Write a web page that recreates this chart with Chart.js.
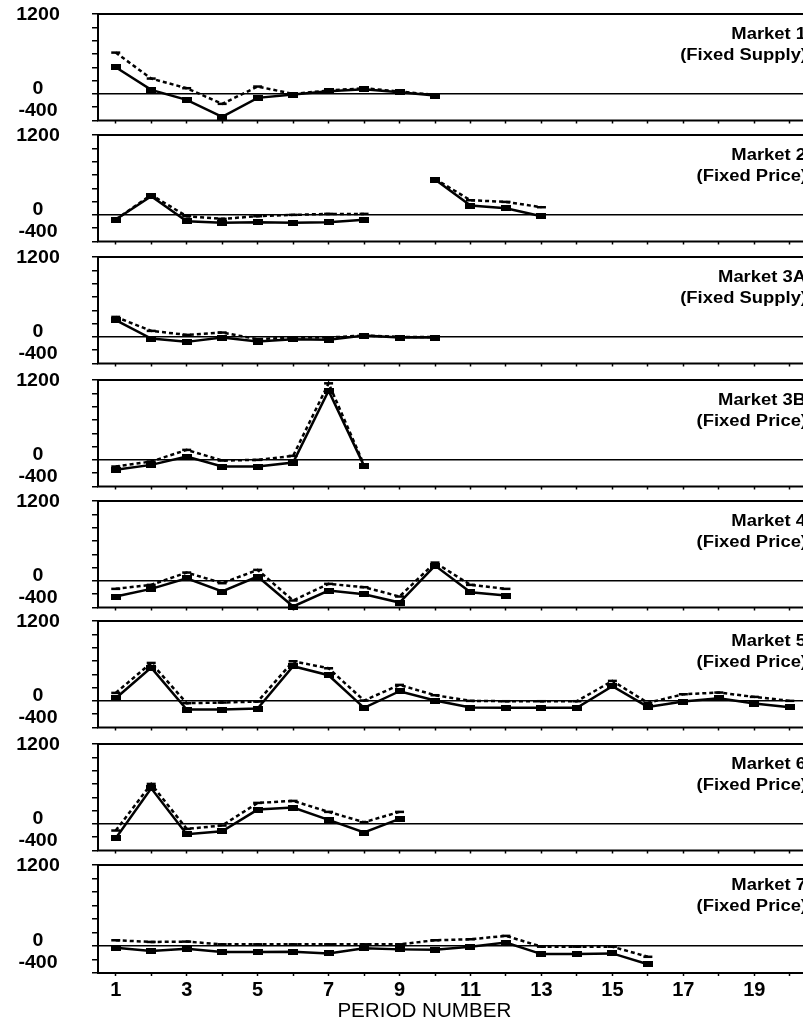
<!DOCTYPE html>
<html>
<head>
<meta charset="utf-8">
<script src="https://cdn.jsdelivr.net/npm/chart.js@4/dist/chart.umd.min.js"></script>
<style>
  html, body { margin: 0; padding: 0; background: #fff; overflow: hidden; }
  #wrap { position: relative; width: 803px; height: 1023px; overflow: hidden; }
  #wrap canvas { position: absolute; left: 0; }
</style>
</head>
<body>
<div id="wrap"></div>
<script>
const periods = [1, 2, 3, 4, 5, 6, 7, 8, 9, 10, 11, 12, 13, 14, 15, 16, 17, 18, 19, 20];
const xTickLabels = [1, 3, 5, 7, 9, 11, 13, 15, 17, 19];
const yTickLabels = [1200, 0, -400];

const market1Solid  = [400, 60, -90, -345, -60, -10, 40, 70, 25, -25];
const market1Dashed = [620, 230, 85, -150, 110, 0, 50, 85, 35, -15];

const market2Solid  = [-70, 280, -95, -120, -110, -120, -110, -75, null, 530, 140, 100, -20];
const market2Dashed = [-70, 300, -20, -60, -20, 0, 15, 15, null, 540, 220, 195, 115];

const market3ASolid  = [250, -25, -75, -10, -70, -35, -45, 20, -10, -10];
const market3ADashed = [300, 90, 30, 65, -35, -10, -10, 20, 0, 0];

const market3BSolid  = [-150, -75, 50, -100, -100, -40, 1040, -90];
const market3BDashed = [-100, -25, 150, -10, 0, 60, 1150, -75];

const market4Solid  = [-235, -120, 40, -160, 65, -385, -145, -200, -325, 230, -170, -220];
const market4Dashed = [-120, -60, 125, -35, 165, -295, -45, -95, -235, 275, -60, -120];

const market5Solid  = [40, 500, -130, -130, -115, 520, 385, -105, 145, 5, -100, -105, -105, -105, 220, -90, -10, 40, -40, -95];
const market5Dashed = [120, 570, -35, -25, -10, 595, 490, 5, 240, 85, 0, -5, -5, -5, 300, -30, 100, 125, 60, 0];

const market6Solid  = [-215, 535, -155, -110, 215, 245, 60, -130, 75];
const market6Dashed = [-100, 600, -75, -25, 315, 345, 180, 25, 180];

const market7Solid  = [-25, -75, -40, -90, -90, -85, -110, -35, -50, -55, -10, 50, -120, -120, -110, -270];
const market7Dashed = [85, 60, 65, 25, 25, 25, 25, 25, 25, 85, 100, 150, -10, -10, -10, -160];

const marketNames = ['Market 1', 'Market 2', 'Market 3A', 'Market 3B', 'Market 4', 'Market 5', 'Market 6', 'Market 7'];
const marketTypes = ['(Fixed Supply)', '(Fixed Price)', '(Fixed Supply)', '(Fixed Price)',
                     '(Fixed Price)', '(Fixed Price)', '(Fixed Price)', '(Fixed Price)'];

const solidSeries  = [market1Solid, market2Solid, market3ASolid, market3BSolid, market4Solid, market5Solid, market6Solid, market7Solid];
const dashedSeries = [market1Dashed, market2Dashed, market3ADashed, market3BDashed, market4Dashed, market5Dashed, market6Dashed, market7Dashed];

// layout
const panelTops = [14, 135, 257, 380, 501, 621, 744, 865];
const panelHeight = 108;
const padTop = 12;
const canvasWidth = 815;
const labelShift = { '1200': 1, '0': -5, '-400': -10 };

// little filled bar used as the marker of the solid line
const solidMarker = document.createElement('canvas');
solidMarker.width = 10;
solidMarker.height = 6;
const mctx = solidMarker.getContext('2d');
mctx.fillStyle = '#000';
mctx.fillRect(0, 0, 10, 6);

Chart.defaults.font.family = '"Liberation Sans", Arial, sans-serif';
Chart.defaults.color = '#000';

function toPoints(values) {
    return values.map((v, i) => ({ x: periods[i], y: v }));
}

// text drawn a bit wider than the font, like the scanned original
function wideText(ctx, text, x, y, sx) {
    ctx.save();
    ctx.translate(x, y);
    ctx.scale(sx, 1);
    ctx.fillText(text, 0, 0);
    ctx.restore();
}

const panelDecor = {
    id: 'panelDecor',
    afterDraw(chart, args, opts) {
        const ctx = chart.ctx;
        const area = chart.chartArea;
        const yScale = chart.scales.y;
        ctx.save();
        // frame
        ctx.strokeStyle = '#000';
        ctx.lineWidth = 2;
        ctx.strokeRect(area.left, area.top, area.right - area.left, area.bottom - area.top);

        // y labels
        ctx.fillStyle = '#000';
        ctx.font = 'bold 19px "Liberation Sans", Arial, sans-serif';
        ctx.textAlign = 'center';
        ctx.textBaseline = 'middle';
        yTickLabels.forEach(v => {
            wideText(ctx, String(v), 38, yScale.getPixelForValue(v) + labelShift[String(v)], 1.03);
        });

        // market caption
        ctx.font = 'bold 16px "Liberation Sans", Arial, sans-serif';
        ctx.textAlign = 'right';
        ctx.textBaseline = 'alphabetic';
        wideText(ctx, opts.name, 806, area.top + 25, 1.15);
        wideText(ctx, opts.type, 807, area.top + 46, 1.15);

        if (opts.showTitle) {
            ctx.font = '20px "Liberation Sans", Arial, sans-serif';
            ctx.textAlign = 'center';
            wideText(ctx, 'PERIOD NUMBER', chart.scales.x.getPixelForValue(9.7), area.bottom + 44, 1.03);
        }
        ctx.restore();
    }
};

const wrap = document.getElementById('wrap');

marketNames.forEach((name, i) => {
    const last = i === marketNames.length - 1;
    const xHeight = last ? 1023 - (panelTops[i] - padTop) - padTop - panelHeight : 6;
    const canvas = document.createElement('canvas');
    canvas.width = canvasWidth;
    canvas.height = padTop + panelHeight + xHeight;
    canvas.style.top = (panelTops[i] - padTop) + 'px';
    wrap.appendChild(canvas);

    new Chart(canvas.getContext('2d'), {
        type: 'line',
        data: {
            datasets: [
                {
                    label: name + ' solid',
                    data: toPoints(solidSeries[i]),
                    borderColor: '#000',
                    borderWidth: 2.5,
                    pointStyle: solidMarker,
                    pointRadius: 5,
                    spanGaps: false,
                    tension: 0
                },
                {
                    label: name + ' dashed',
                    data: toPoints(dashedSeries[i]),
                    borderColor: '#000',
                    borderWidth: 2.5,
                    borderDash: [4, 3],
                    pointStyle: 'line',
                    pointRadius: 4.5,
                    pointBorderWidth: 2.5,
                    pointBorderColor: '#000',
                    spanGaps: false,
                    tension: 0
                }
            ]
        },
        options: {
            responsive: false,
            animation: false,
            devicePixelRatio: 1,
            clip: false,
            layout: { padding: { top: padTop, right: canvasWidth - 812.5, left: 0, bottom: 0 } },
            plugins: {
                legend: { display: false },
                tooltip: { enabled: false },
                panelDecor: { name: name, type: marketTypes[i], showTitle: last }
            },
            scales: {
                x: {
                    type: 'linear',
                    min: 0.5,
                    max: 20.5,
                    afterBuildTicks: s => { s.ticks = periods.map(v => ({ value: v })); },
                    afterFit: s => { s.height = xHeight; },
                    border: { display: false },
                    grid: {
                        drawOnChartArea: false,
                        drawTicks: true,
                        tickLength: 3,
                        tickColor: '#000',
                        tickWidth: 1.5
                    },
                    ticks: {
                        display: last,
                        autoSkip: false,
                        maxRotation: 0,
                        padding: 2,
                        font: { size: 20, weight: 'bold' },
                        callback: v => xTickLabels.includes(v) ? String(v) : ''
                    }
                },
                y: {
                    min: -400,
                    max: 1200,
                    afterFit: s => { s.width = 98; },
                    border: { display: false },
                    grid: {
                        color: c => (c.tick && c.tick.value === 0) ? '#000' : 'rgba(0,0,0,0)',
                        lineWidth: 1.5,
                        tickColor: '#000',
                        tickLength: 6,
                        tickWidth: 1.5
                    },
                    ticks: { display: false, stepSize: 200 }
                }
            }
        },
        plugins: [panelDecor]
    });
});
</script>
</body>
</html>
